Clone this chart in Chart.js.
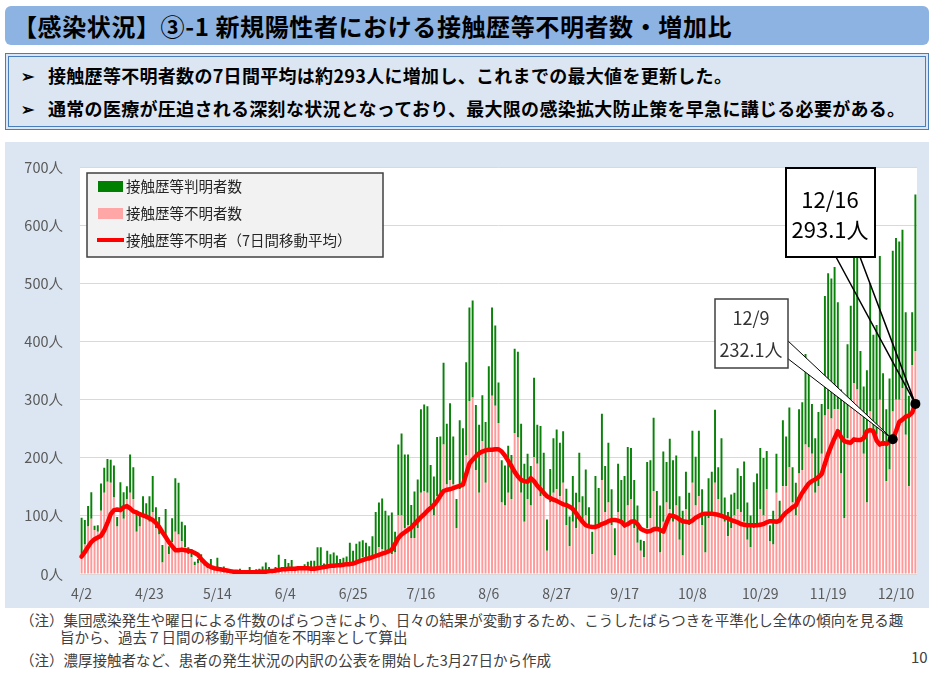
<!DOCTYPE html>
<html lang="ja">
<head>
<meta charset="utf-8">
<title>接触歴等不明者数・増加比</title>
<script src="https://cdn.jsdelivr.net/npm/chart.js@4.4.1/dist/chart.umd.min.js"></script>
<style>
  body { margin: 0; width: 934px; height: 673px; background: #fff; position: relative; overflow: hidden;
         font-family: "Noto Sans CJK JP", "Noto Sans", sans-serif; color: #000; }
  .title { position: absolute; left: 5px; top: 6px; width: 924px; height: 39px; background: #8DB3E2;
           border-radius: 6px; font-size: 24px; font-weight: bold; line-height: 39px; padding-left: 8px;
           box-sizing: border-box; white-space: nowrap; letter-spacing: 0.6px; }
  .summary { position: absolute; left: 5px; top: 53px; width: 924px; height: 77px; background: #DCE6F2;
             border: 4px double #4A7EBB; box-sizing: border-box; font-size: 18px; font-weight: bold; }
  .summary .b { position: absolute; left: 12px; font-size: 16px; line-height: 24px; }
  .summary .t { position: absolute; left: 39px; line-height: 24px; white-space: nowrap; letter-spacing: 0.3px; }
  .chartbox { position: absolute; left: 5px; top: 142px; width: 924px; height: 466px; background: #DCE6F2; }
  .note { position: absolute; font-size: 14.5px; line-height: 18px; color: #404040; white-space: nowrap; }
</style>
</head>
<body>
<div class="title">【感染状況】③-1 新規陽性者における接触歴等不明者数・増加比</div>
<div class="summary">
  <span class="b" style="top:6px">➢</span><span class="t" style="top:6px">接触歴等不明者数の7日間平均は約293人に増加し、これまでの最大値を更新した。</span>
  <span class="b" style="top:39px">➢</span><span class="t" style="top:39px">通常の医療が圧迫される深刻な状況となっており、最大限の感染拡大防止策を早急に講じる必要がある。</span>
</div>
<div class="chartbox"><canvas id="myChart"></canvas></div>
<div class="note" style="left:20px; top:611px">（注）集団感染発生や曜日による件数のばらつきにより、日々の結果が変動するため、こうしたばらつきを平準化し全体の傾向を見る趣</div>
<div class="note" style="left:60px; top:628px">旨から、過去７日間の移動平均値を不明率として算出</div>
<div class="note" style="left:20px; top:651px">（注）濃厚接触者など、患者の発生状況の内訳の公表を開始した3月27日から作成</div>
<div class="note" style="left:911px; top:648px; font-size:15px">10</div>
<script>
// 表示する目盛りラベル
const tickLabels = ['4/2', '4/23', '5/14', '6/4', '6/25', '7/16', '8/6', '8/27', '9/17', '10/8', '10/29', '11/19', '12/10'];

// 接触歴等不明者数 (4/2 - 12/16)
const unknownCases = [
  34, 51, 82, 95, 76, 73, 109, 140, 159, 157,
  132, 82, 112, 95, 129, 140, 129, 73, 82, 101,
  95, 90, 107, 79, 68, 20, 62, 34, 55, 73,
  68, 57, 46, 34, 29, 15, 18, 20, 14, 10,
  12, 8, 10, 8, 7, 5, 4, 4, 3, 3,
  2, 3, 4, 2, 3, 4, 5, 6, 5, 4,
  6, 9, 7, 10, 9, 11, 7, 6, 8, 10,
  12, 9, 10, 12, 14, 10, 15, 13, 16, 14,
  15, 17, 18, 20, 18, 20, 26, 29, 26, 23,
  26, 34, 46, 43, 40, 41, 34, 37, 101, 101,
  79, 84, 62, 62, 79, 140, 143, 140, 118, 101,
  134, 129, 223, 154, 162, 154, 79, 146, 151, 204,
  298, 304, 179, 140, 229, 157, 212, 307, 290, 260,
  123, 118, 140, 129, 243, 235, 140, 90, 129, 118,
  201, 190, 134, 134, 40, 123, 140, 146, 134, 157,
  84, 48, 90, 79, 123, 90, 101, 79, 34, 84,
  79, 162, 107, 123, 84, 32, 107, 90, 79, 118,
  129, 79, 54, 40, 29, 79, 96, 143, 79, 37,
  90, 123, 112, 90, 118, 59, 32, 112, 84, 157,
  118, 134, 84, 37, 96, 101, 157, 129, 101, 90,
  65, 79, 101, 112, 107, 90, 59, 46, 79, 87,
  112, 101, 146, 57, 51, 140, 96, 151, 151, 184,
  123, 101, 173, 179, 223, 218, 207, 140, 151, 207,
  273, 284, 268, 284, 284, 173, 96, 234, 290, 329,
  318, 284, 207, 123, 280, 250, 240, 300, 220, 160,
  180, 280, 300, 300, 320, 240, 151, 360, 384
];

// 接触歴等判明者数
const knownCases = [
  63, 42, 35, 46, 7, 11, 47, 43, 39, 40,
  55, 16, 46, 46, 22, 66, 55, 34, 22, 33,
  27, 44, 62, 36, 30, 30, 50, 14, 41, 92,
  89, 33, 38, 12, 14, 6, 8, 14, 7, 5,
  14, 4, 18, 4, 6, 2, 2, 2, 2, 6,
  2, 1, 8, 2, 5, 5, 8, 14, 7, 3,
  6, 24, 5, 16, 10, 13, 2, 2, 1, 7,
  9, 14, 13, 34, 32, 8, 25, 21, 21, 18,
  11, 11, 12, 34, 22, 32, 30, 29, 28, 25,
  39, 73, 77, 87, 69, 60, 72, 36, 122, 141,
  127, 122, 57, 80, 84, 144, 149, 149, 70, 67,
  102, 108, 141, 105, 132, 83, 50, 119, 100, 161,
  161, 167, 112, 117, 79, 105, 146, 152, 138, 70,
  73, 69, 81, 76, 145, 148, 119, 100, 78, 68,
  137, 67, 121, 75, 54, 58, 94, 103, 92, 89,
  63, 51, 79, 61, 86, 44, 79, 36, 39, 85,
  69, 114, 79, 103, 62, 47, 83, 72, 90, 101,
  88, 83, 64, 19, 28, 114, 100, 126, 64, 81,
  121, 70, 121, 106, 86, 75, 77, 64, 56, 90,
  84, 113, 62, 70, 69, 75, 126, 55, 133, 42,
  42, 58, 39, 70, 62, 104, 64, 55, 79, 86,
  105, 99, 66, 27, 58, 67, 30, 114, 86, 103,
  61, 56, 111, 117, 156, 139, 86, 94, 128, 86,
  206, 234, 241, 245, 184, 145, 211, 162, 172, 225,
  228, 100, 116, 228, 221, 162, 189, 248, 126, 124,
  157, 277, 279, 273, 273, 211, 156, 91, 270
];

// 接触歴等不明者（7日間移動平均）
const movingAvg = [
  30, 38, 47, 55, 60, 63, 66, 75, 88, 103,
  110, 111, 110, 115, 117, 113, 108, 106, 103, 101,
  99, 96, 93, 88, 81, 72, 64, 55, 48, 41,
  41, 42, 41, 40, 39, 36, 33, 26, 20, 15,
  12, 10, 9, 8, 7, 6, 5, 4, 4, 3,
  3, 3, 3, 3, 3, 4, 4, 4, 5, 5,
  6, 7, 8, 8, 9, 9, 9, 10, 10, 10,
  10, 9, 9, 10, 11, 12, 13, 14, 14, 15,
  15, 16, 17, 17, 18, 20, 22, 24, 26, 27,
  29, 31, 33, 35, 37, 39, 42, 52, 62, 68,
  72, 76, 80, 86, 92, 98, 103, 109, 114, 119,
  126, 135, 143, 145, 146, 148, 150, 152, 154, 172,
  190, 197, 203, 208, 211, 213, 214, 214, 215, 215,
  211, 204, 195, 186, 176, 168, 162, 160, 159, 165,
  160, 152, 146, 140, 134, 131, 128, 126, 123, 120,
  119, 116, 112, 105, 97, 90, 84, 82, 81, 81,
  83, 86, 88, 91, 93, 93, 92, 90, 84, 86,
  90, 91, 86, 78, 75, 73, 74, 77, 78, 76,
  73, 88, 101, 100, 98, 94, 91, 90, 89, 92,
  97, 100, 103, 104, 104, 104, 103, 102, 100, 98,
  96, 93, 91, 89, 86, 85, 84, 84, 84, 84,
  85, 86, 89, 91, 91, 90, 92, 100, 106, 110,
  115, 118, 130, 140, 148, 156, 160, 163, 167, 172,
  190, 207, 221, 234, 246, 236, 229, 227, 226, 232,
  231, 231, 234, 246, 248, 246, 230, 223, 226, 224,
  229, 232.1, 246, 262, 266, 271, 273, 278, 293.1
];

// 日付ラベル 4/2 〜 12/16
const monthLen = [0, 31, 29, 31, 30, 31, 30, 31, 31, 30, 31, 30, 31];
const days = [];
for (let m = 4, d = 2; !(m === 12 && d > 16);) {
  days.push(m + '/' + d);
  d++;
  if (d > monthLen[m]) { m++; d = 1; }
}

const FONT = '"Noto Sans CJK JP", sans-serif';
Chart.defaults.font.family = FONT;

// プロット領域の白背景
const plotBg = {
  id: 'plotBg',
  beforeDraw(chart) {
    const {ctx, chartArea: a} = chart;
    ctx.save();
    ctx.fillStyle = '#ffffff';
    ctx.fillRect(a.left, a.top, a.right - a.left, a.bottom - a.top);
    ctx.restore();
  }
};

// 凡例
const legendBox = {
  id: 'legendBox',
  afterDraw(chart) {
    const ctx = chart.ctx;
    ctx.save();
    ctx.fillStyle = '#F2F2F2';
    ctx.fillRect(82, 31, 296, 84);
    ctx.strokeStyle = '#404040';
    ctx.lineWidth = 1.5;
    ctx.strokeRect(82, 31, 296, 84);

    ctx.fillStyle = '#008000';
    ctx.fillRect(93, 39, 25, 11);
    ctx.fillStyle = '#FFA6A6';
    ctx.fillRect(93, 66, 25, 11);
    ctx.strokeStyle = '#FF0000';
    ctx.lineWidth = 4;
    ctx.beginPath();
    ctx.moveTo(92, 98);
    ctx.lineTo(119, 98);
    ctx.stroke();

    ctx.fillStyle = '#262626';
    ctx.font = '14.5px ' + FONT;
    ctx.textBaseline = 'middle';
    ctx.fillText('接触歴等判明者数', 121, 44);
    ctx.fillText('接触歴等不明者数', 121, 71);
    ctx.fillText('接触歴等不明者（7日間移動平均）', 121, 98);
    ctx.restore();
  }
};

// 吹き出し
const callouts = {
  id: 'callouts',
  afterDraw(chart) {
    const {ctx, scales: {x, y}} = chart;
    const p1 = {x: x.getPixelForValue(251), y: y.getPixelForValue(movingAvg[251])};
    const p2 = {x: x.getPixelForValue(258), y: y.getPixelForValue(movingAvg[258])};
    ctx.save();

    // 12/9
    ctx.beginPath();
    ctx.moveTo(782, 198);
    ctx.lineTo(p1.x, p1.y);
    ctx.lineTo(782, 216);
    ctx.closePath();
    ctx.fillStyle = '#ffffff';
    ctx.fill();
    ctx.strokeStyle = '#000000';
    ctx.lineWidth = 1;
    ctx.stroke();
    ctx.fillRect(710, 157, 73, 69);
    ctx.strokeStyle = '#404040';
    ctx.lineWidth = 1.5;
    ctx.strokeRect(710, 157, 73, 69);
    ctx.fillStyle = '#333333';
    ctx.font = '18px ' + FONT;
    ctx.textAlign = 'center';
    ctx.textBaseline = 'middle';
    ctx.fillText('12/9', 746, 176);
    ctx.fillText('232.1人', 746, 208);

    // 12/16
    ctx.strokeStyle = '#000000';
    ctx.lineWidth = 1.5;
    ctx.beginPath();
    ctx.moveTo(831, 115);
    ctx.lineTo(p2.x, p2.y);
    ctx.moveTo(855, 115);
    ctx.lineTo(p2.x, p2.y);
    ctx.stroke();
    ctx.fillStyle = '#ffffff';
    ctx.fillRect(781, 26, 89, 89);
    ctx.lineWidth = 2;
    ctx.strokeRect(781, 26, 89, 89);
    ctx.fillStyle = '#000000';
    ctx.font = '22px ' + FONT;
    ctx.fillText('12/16', 825, 58);
    ctx.fillText('293.1人', 825, 88);

    // 点
    [p1, p2].forEach(p => {
      ctx.beginPath();
      ctx.arc(p.x, p.y, 5, 0, Math.PI * 2);
      ctx.fillStyle = '#000000';
      ctx.fill();
    });
    ctx.restore();
  }
};

const ctx = document.getElementById('myChart');

new Chart(ctx, {
  type: 'bar',
  data: {
    labels: days,
    datasets: [
      {
        type: 'line',
        label: '接触歴等不明者（7日間移動平均）',
        data: movingAvg,
        borderColor: '#FF0000',
        borderWidth: 4.5,
        pointRadius: 0,
        tension: 0,
        borderJoinStyle: 'round',
        borderCapStyle: 'round',
        stack: 'ma',
        order: 0
      },
      {
        label: '接触歴等不明者数',
        data: unknownCases,
        backgroundColor: '#FF9A9A',
        stack: 'cases',
        barPercentage: 0.6,
        categoryPercentage: 1,
        order: 1
      },
      {
        label: '接触歴等判明者数',
        data: knownCases,
        backgroundColor: '#0A820A',
        stack: 'cases',
        barPercentage: 0.6,
        categoryPercentage: 1,
        order: 1
      }
    ]
  },
  options: {
    responsive: true,
    maintainAspectRatio: false,
    animation: false,
    devicePixelRatio: 1,
    layout: { padding: { top: 12, right: 12, left: 0, bottom: 0 } },
    plugins: {
      legend: { display: false },
      tooltip: { enabled: false }
    },
    scales: {
      x: {
        stacked: true,
        grid: { display: false, drawTicks: false },
        border: { display: false },
        ticks: {
          autoSkip: false,
          maxRotation: 0,
          minRotation: 0,
          padding: 11,
          color: '#595959',
          font: { size: 14 },
          callback(v) {
            const l = this.getLabelForValue(v);
            return tickLabels.includes(l) ? l : '';
          }
        },
        afterFit(s) { s.height = 34; }
      },
      y: {
        stacked: true,
        min: 0,
        max: 700,
        grid: { color: '#D9D9D9', drawTicks: false },
        border: { display: false },
        ticks: {
          stepSize: 100,
          padding: 17,
          color: '#595959',
          font: { size: 14.5 },
          callback: v => v + '人'
        },
        afterFit(s) { s.width = 75; }
      }
    }
  },
  plugins: [plotBg, legendBox, callouts]
});
</script>
</body>
</html>
